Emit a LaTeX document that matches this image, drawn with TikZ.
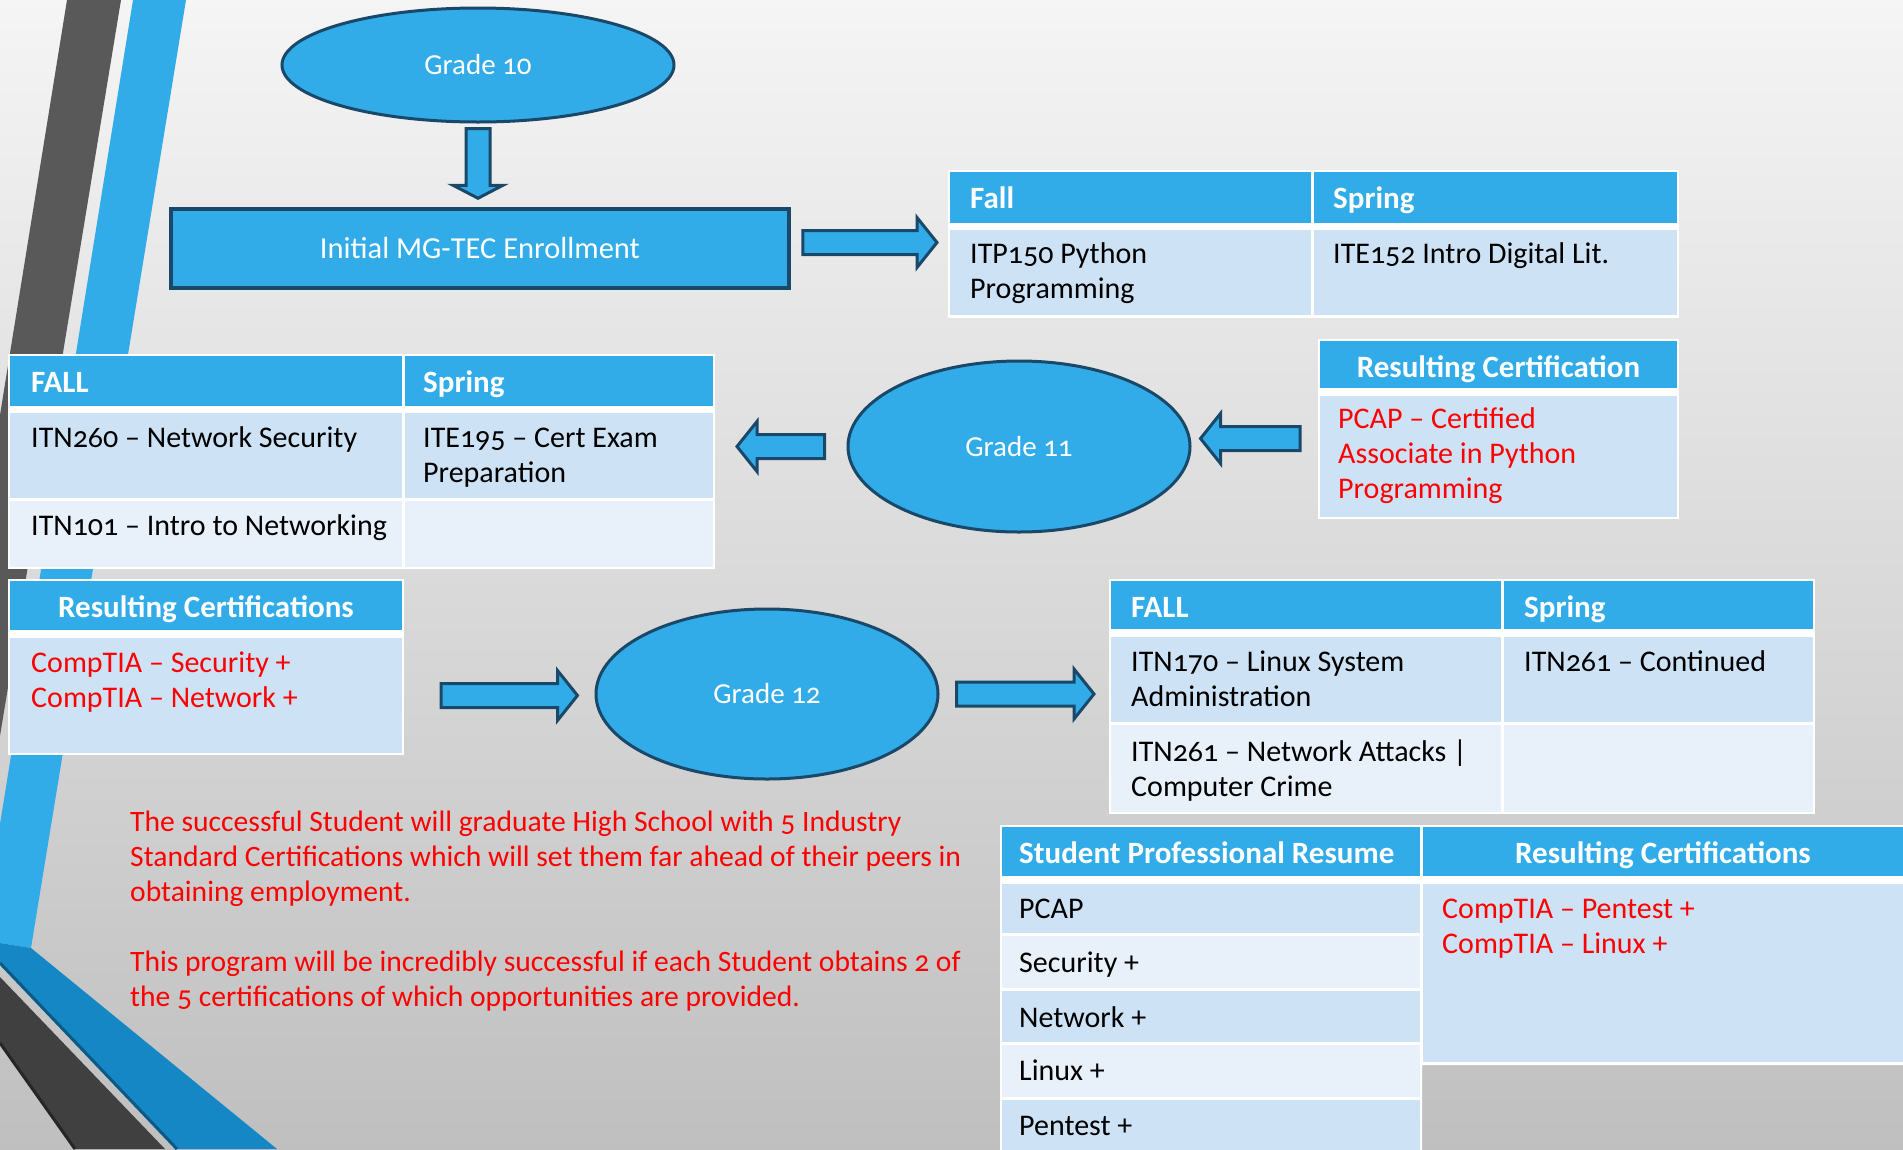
\documentclass[tikz,border=0pt]{standalone}
\usepackage{fontspec}
\setmainfont{Carlito}[Numbers=OldStyle]
\usetikzlibrary{shapes.geometric,calc}

\definecolor{tblue}{RGB}{49,172,233}
\definecolor{navy}{RGB}{25,72,105}
\definecolor{rowdark}{RGB}{205,226,245}
\definecolor{rowlight}{RGB}{232,240,250}
\definecolor{bandblue}{RGB}{20,135,196}
\definecolor{bandline}{RGB}{10,90,135}
\definecolor{stripegray}{RGB}{89,89,89}
\definecolor{bandgray}{RGB}{64,64,64}

\tikzset{
  bubble/.style={ellipse, draw=navy, line width=3pt, fill=tblue, text=white,
    font=\fontsize{29}{35}\selectfont},
  mgbox/.style={rectangle, draw=navy, line width=3.5pt, fill=tblue, text=white,
    font=\fontsize{30.5}{35}\selectfont},
  blockarrow/.style={draw=navy, line width=3pt, fill=tblue, line join=miter},
  cell/.style={anchor=north west, inner sep=0pt, outer sep=0pt},
  hdr/.style={cell, fill=tblue},
  rowa/.style={cell, fill=rowdark},
  rowb/.style={cell, fill=rowlight},
  txt/.style={anchor=north west, inner sep=0pt, align=left,
    font=\fontsize{30}{35}\selectfont, execute at begin node=\strut},
  htxt/.style={txt, text=white, font=\fontsize{31}{35}\selectfont\bfseries},
  ctxt/.style={htxt, anchor=north, align=center},
  rtxt/.style={txt, text=red}
}

% block arrows between nodes
\newcommand\harr[2]{\draw[blockarrow] let \p1=(#1), \p2=(#2), \n1={sign(\x2-\x1)*20pt} in
  (\x1,{\y1+12pt}) -- ({\x2-\n1},{\y1+12pt}) -- ({\x2-\n1},{\y1+25pt}) -- (\x2,\y1)
  -- ({\x2-\n1},{\y1-25pt}) -- ({\x2-\n1},{\y1-12pt}) -- (\x1,{\y1-12pt}) -- cycle;}
\newcommand\varr[2]{\draw[blockarrow] let \p1=(#1), \p2=(#2) in
  ({\x1-12pt},\y1) -- ({\x1-12pt},{\y2+13pt}) -- ({\x1-25pt},{\y2+13pt}) -- (\x1,\y2)
  -- ({\x1+25pt},{\y2+13pt}) -- ({\x1+12pt},{\y2+13pt}) -- ({\x1+12pt},\y1) -- cycle;}

\begin{document}
\begin{tikzpicture}[x=1pt, y=-1pt]
\useasboundingbox (0,0) rectangle (1903,1149);
% background and side stripes
\shade[shading angle=-35, top color=black!4, middle color=black!12, bottom color=black!25]
  (0,0) rectangle (1903,1149);
\fill[stripegray] (67,0) -- (121,0) -- (0,736) -- (0,415) -- cycle;
\fill[tblue] (133,0) -- (186,0) -- (31,948) -- (0,943) -- (0,824) -- cycle;
\fill[bandblue] (0,943) -- (31,948) -- (277,1149) -- (177,1149) -- (0,963) -- cycle;
\draw[bandline, line width=3pt] (0,963) -- (177,1149);
\fill[bandgray] (0,977) -- (165,1149) -- (75,1149) -- (0,1043) -- cycle;
\draw[black!85, line width=3pt] (0,1043) -- (75,1149);

% grade 10 and enrollment
\node[bubble, minimum width=392pt, minimum height=114pt] (g10) at (478,65) {Grade 10};
\node[mgbox, minimum width=618pt, minimum height=79pt] (enroll) at (480,248.5) {Initial MG-TEC Enrollment};
\varr{[yshift=-5pt]g10.south}{[yshift=9pt]enroll.north}

% grade 10 courses
\fill[white] (948,170) rectangle (1679,318);
\node[hdr, minimum width=361pt, minimum height=51pt] (t1fall) at (950,172) {};
\node[hdr, minimum width=363pt, minimum height=51pt] (t1spring) at (1314,172) {};
\node[rowa, minimum width=361pt, minimum height=85pt] (t1a1) at (950,230) {};
\node[rowa, minimum width=363pt, minimum height=85pt] (t1a2) at (1314,230) {};
\node[htxt] (t1fallt) at (970,183.5) {Fall};
\node[htxt] (t1springt) at (1333,183.5) {Spring};
\node[txt] (t1a1t) at (970,238.5) {\strut ITP150 Python\\Programming};
\node[txt] (t1a2t) at (1333,238.5) {ITE152 Intro Digital Lit.};
\harr{[xshift=12pt,yshift=6pt]enroll.east}{[xshift=-13pt]t1fall.west}

% grade 11 certification
\fill[white] (1318,339) rectangle (1679,519);
\node[hdr, minimum width=357pt, minimum height=47pt] (c1head) at (1320,341) {};
\node[rowa, minimum width=357pt, minimum height=121pt] (c1body) at (1320,396) {};
\node[ctxt] (c1headt) at (1498.5,352.5) {Resulting Certification};
\node[rtxt] (c1bodyt) at (1338,403.5) {\strut PCAP – Certified\\Associate in Python\\Programming};

% grade 11
\node[bubble, minimum width=342pt, minimum height=171pt] (g11) at (1019,446.5) {Grade 11};
\harr{[xshift=-20pt,yshift=18pt]c1body.west}{[xshift=9pt]g11.east}

% grade 11 courses
\fill[white] (8,354) rectangle (715,569);
\node[hdr, minimum width=392pt, minimum height=50pt] (t2fall) at (10,356) {};
\node[hdr, minimum width=308pt, minimum height=50pt] (t2spring) at (405,356) {};
\node[rowa, minimum width=392pt, minimum height=85pt] (t2a1) at (10,413) {};
\node[rowa, minimum width=308pt, minimum height=85pt] (t2a2) at (405,413) {};
\node[rowb, minimum width=392pt, minimum height=66pt] (t2b1) at (10,501) {};
\node[rowb, minimum width=308pt, minimum height=66pt] (t2b2) at (405,501) {};
\node[htxt] (t2fallt) at (31,367.5) {FALL};
\node[htxt] (t2springt) at (423,367.5) {Spring};
\node[txt] (t2a1t) at (31,422.5) {ITN260 – Network Security};
\node[txt] (t2a2t) at (423,422.5) {\strut ITE195 – Cert Exam\\Preparation};
\node[txt] (t2b1t) at (31,510.5) {ITN101 – Intro to Networking};
\harr{[xshift=-22pt]g11.west}{[xshift=24pt]t2spring.east}

% grade 11 certifications
\fill[white] (8,579) rectangle (404,755);
\node[hdr, minimum width=392pt, minimum height=49pt] (c2head) at (10,581) {};
\node[rowa, minimum width=392pt, minimum height=115pt] (c2body) at (10,638) {};
\node[ctxt] (c2headt) at (206,592.5) {Resulting Certifications};
\node[rtxt] (c2bodyt) at (31,647.5) {\strut CompTIA – Security +\\CompTIA – Network +};

% grade 12
\node[bubble, minimum width=342pt, minimum height=170pt] (g12) at (767,694) {Grade 12};
\harr{[xshift=39pt]c2body.east}{[xshift=-17pt]g12.west}

% grade 12 courses
\fill[white] (1109,579) rectangle (1815,814);
\node[hdr, minimum width=390pt, minimum height=48pt] (t3fall) at (1111,581) {};
\node[hdr, minimum width=309pt, minimum height=48pt] (t3spring) at (1504,581) {};
\node[rowa, minimum width=390pt, minimum height=85pt] (t3a1) at (1111,637) {};
\node[rowa, minimum width=309pt, minimum height=85pt] (t3a2) at (1504,637) {};
\node[rowb, minimum width=390pt, minimum height=87pt] (t3b1) at (1111,725) {};
\node[rowb, minimum width=309pt, minimum height=87pt] (t3b2) at (1504,725) {};
\node[htxt] (t3fallt) at (1131,592.5) {FALL};
\node[htxt] (t3springt) at (1524,592.5) {Spring};
\node[txt] (t3a1t) at (1131,646.5) {\strut ITN170 – Linux System\\Administration};
\node[txt] (t3a2t) at (1524,646.5) {ITN261 – Continued};
\node[txt] (t3b1t) at (1131,736.5) {\strut ITN261 – Network Attacks |\\Computer Crime};
\harr{[xshift=17pt]g12.east}{[xshift=-17pt]t3a1.west}

% resume
\fill[white] (1000,825) rectangle (1905,1065) (1000,1065) rectangle (1422,1151);
\node[hdr, minimum width=418pt, minimum height=49pt] (t4res) at (1002,827) {};
\node[hdr, minimum width=480pt, minimum height=49pt] (t4cert) at (1423,827) {};
\node[rowa, minimum width=418pt, minimum height=49pt] (t4r1) at (1002,884) {};
\node[rowb, minimum width=418pt, minimum height=52pt] (t4r2) at (1002,936) {};
\node[rowa, minimum width=418pt, minimum height=51pt] (t4r3) at (1002,991) {};
\node[rowb, minimum width=418pt, minimum height=52pt] (t4r4) at (1002,1045) {};
\node[rowa, minimum width=418pt, minimum height=52pt] (t4r5) at (1002,1100) {};
\node[rowa, minimum width=480pt, minimum height=178pt] (t4body) at (1423,884) {};
\node[htxt] (t4rest) at (1019,838.5) {Student Professional Resume};
\node[ctxt] (t4certt) at (1663,838.5) {Resulting Certifications};
\node[txt] (t4r1t) at (1019,893.5) {PCAP};
\node[txt] (t4r2t) at (1019,947.5) {Security +};
\node[txt] (t4r3t) at (1019,1002.5) {Network +};
\node[txt] (t4r4t) at (1019,1055.5) {Linux +};
\node[txt] (t4r5t) at (1019,1110.5) {Pentest +};
\node[rtxt] (t4bodyt) at (1442,893.5) {\strut CompTIA – Pentest +\\CompTIA – Linux +};

% closing remarks
\node[rtxt, font=\fontsize{29.6}{35}\selectfont] (note) at (130,806.5)
  {\strut The successful Student will graduate High School with 5 Industry\\
   Standard Certifications which will set them far ahead of their peers in\\
   obtaining employment.\\[35pt]
   This program will be incredibly successful if each Student obtains 2 of\\
   the 5 certifications of which opportunities are provided.};
\end{tikzpicture}
\end{document}
